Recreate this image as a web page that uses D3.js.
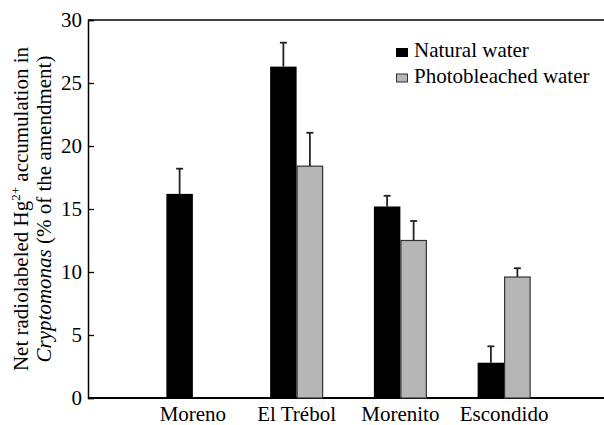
<!DOCTYPE html>
<html><head><meta charset="utf-8">
<script src="https://cdn.jsdelivr.net/npm/d3@7"></script>
<style>
html,body{margin:0;padding:0;background:#fff;}
svg text{font-family:"Liberation Serif","Times New Roman",Times,"DejaVu Serif",serif !important;}
</style></head>
<body><svg id="c" width="604" height="425"></svg>
<script>
const categories = ["Moreno", "El Trébol", "Morenito", "Escondido"];
const seriesNames = ["Natural water", "Photobleached water"];
const naturalValues = [16.2, 26.3, 15.2, 2.8];
const naturalErrors = [2.0, 1.9, 0.85, 1.3];
const bleachedValues = [null, 18.4, 12.5, 9.6];
const bleachedErrors = [null, 2.65, 1.55, 0.7];
const yTicks = [0, 5, 10, 15, 20, 25, 30];
const colors = ["#000000", "#b6b6b6"];

const FONT = "Liberation Serif";
const svg = d3.select("#c");
const fs = 21;
const y = d3.scaleLinear().domain([0, 30]).range([398, 20]);
const x = d3.scaleBand().domain(categories).range([141, 556]).padding(0);
const sub = d3.scaleBand().domain([0, 1]).range([x.bandwidth()/2 - 26.5, x.bandwidth()/2 + 26.5]);

// frame lines
svg.append("line").attr("x1", 88).attr("x2", 604).attr("y1", y(30)).attr("y2", y(30)).attr("stroke", "#000").attr("stroke-width", 1.5);
svg.append("line").attr("x1", 88).attr("x2", 604).attr("y1", y(0)).attr("y2", y(0)).attr("stroke", "#000").attr("stroke-width", 1.8);

// y axis
const yAxis = d3.axisLeft(y).tickValues(yTicks).tickSize(-6).tickPadding(6).tickFormat(d3.format("d"));
const gy = svg.append("g").attr("transform", "translate(88,0)").call(yAxis);
gy.attr("font-family", FONT).attr("font-size", fs);
gy.select(".domain").attr("stroke-width", 1.5);
gy.selectAll(".tick line").attr("stroke-width", 1.3);
gy.selectAll("text").attr("font-size", fs).attr("font-family", FONT).attr("fill", "#000");

// bars
const rows = categories.map((c, i) => ({c, vals: [
  {s: 0, v: naturalValues[i], e: naturalErrors[i]},
  {s: 1, v: bleachedValues[i], e: bleachedErrors[i]}
].filter(d => d.v != null)}));

const g = svg.selectAll("g.grp").data(rows).join("g").attr("class", "grp")
  .attr("transform", d => `translate(${x(d.c)},0)`);

g.selectAll("line.err").data(d => d.vals).join("line").attr("class", "err")
  .attr("x1", d => sub(d.s) + sub.bandwidth()/2).attr("x2", d => sub(d.s) + sub.bandwidth()/2)
  .attr("y1", d => y(d.v)).attr("y2", d => y(d.v + d.e)).attr("stroke", "#222").attr("stroke-width", 1.8);
g.selectAll("line.cap").data(d => d.vals).join("line").attr("class", "cap")
  .attr("x1", d => sub(d.s) + sub.bandwidth()/2 - 3.5).attr("x2", d => sub(d.s) + sub.bandwidth()/2 + 3.5)
  .attr("y1", d => y(d.v + d.e)).attr("y2", d => y(d.v + d.e)).attr("stroke", "#222").attr("stroke-width", 1.8);

g.selectAll("rect").data(d => d.vals).join("rect")
  .attr("x", d => sub(d.s) + (d.s ? 0.5 : 0)).attr("width", d => sub.bandwidth() - (d.s ? 1 : 0))
  .attr("y", d => y(d.v)).attr("height", d => y(0) - y(d.v))
  .attr("fill", d => colors[d.s])
  .attr("stroke", d => d.s ? "#333" : "none").attr("stroke-width", 1.2);

// x labels
svg.selectAll("text.xl").data(categories).join("text").attr("class", "xl")
  .attr("x", d => x(d) + x.bandwidth()/2).attr("y", 421)
  .attr("text-anchor", "middle").attr("font-family", FONT).attr("font-size", fs).text(d => d);

// legend
const lg = svg.append("g");
seriesNames.forEach((n, i) => {
  lg.append("rect").attr("x", 396.5).attr("y", 48.5 + i*25.5).attr("width", 11).attr("height", 8)
    .attr("fill", colors[i]).attr("stroke", i ? "#333" : "#000").attr("stroke-width", 1);
  lg.append("text").attr("x", 414).attr("y", 57 + i*25.5).attr("font-family", FONT).attr("font-size", fs).text(n);
});

// y title
const yt = svg.append("text").attr("transform", "translate(28,209) rotate(-90)")
  .attr("text-anchor", "middle").attr("font-family", FONT).attr("font-size", fs);
yt.append("tspan").text("Net radiolabeled Hg");
yt.append("tspan").attr("font-size", 13).attr("dy", -8).text("2+");
yt.append("tspan").attr("dy", 8).text(" accumulation in");
const yt2 = svg.append("text").attr("transform", "translate(51,209) rotate(-90)")
  .attr("text-anchor", "middle").attr("font-family", FONT).attr("font-size", fs);
yt2.append("tspan").attr("font-style", "italic").text("Cryptomonas");
yt2.append("tspan").text(" (% of the amendment)");
</script></body></html>
